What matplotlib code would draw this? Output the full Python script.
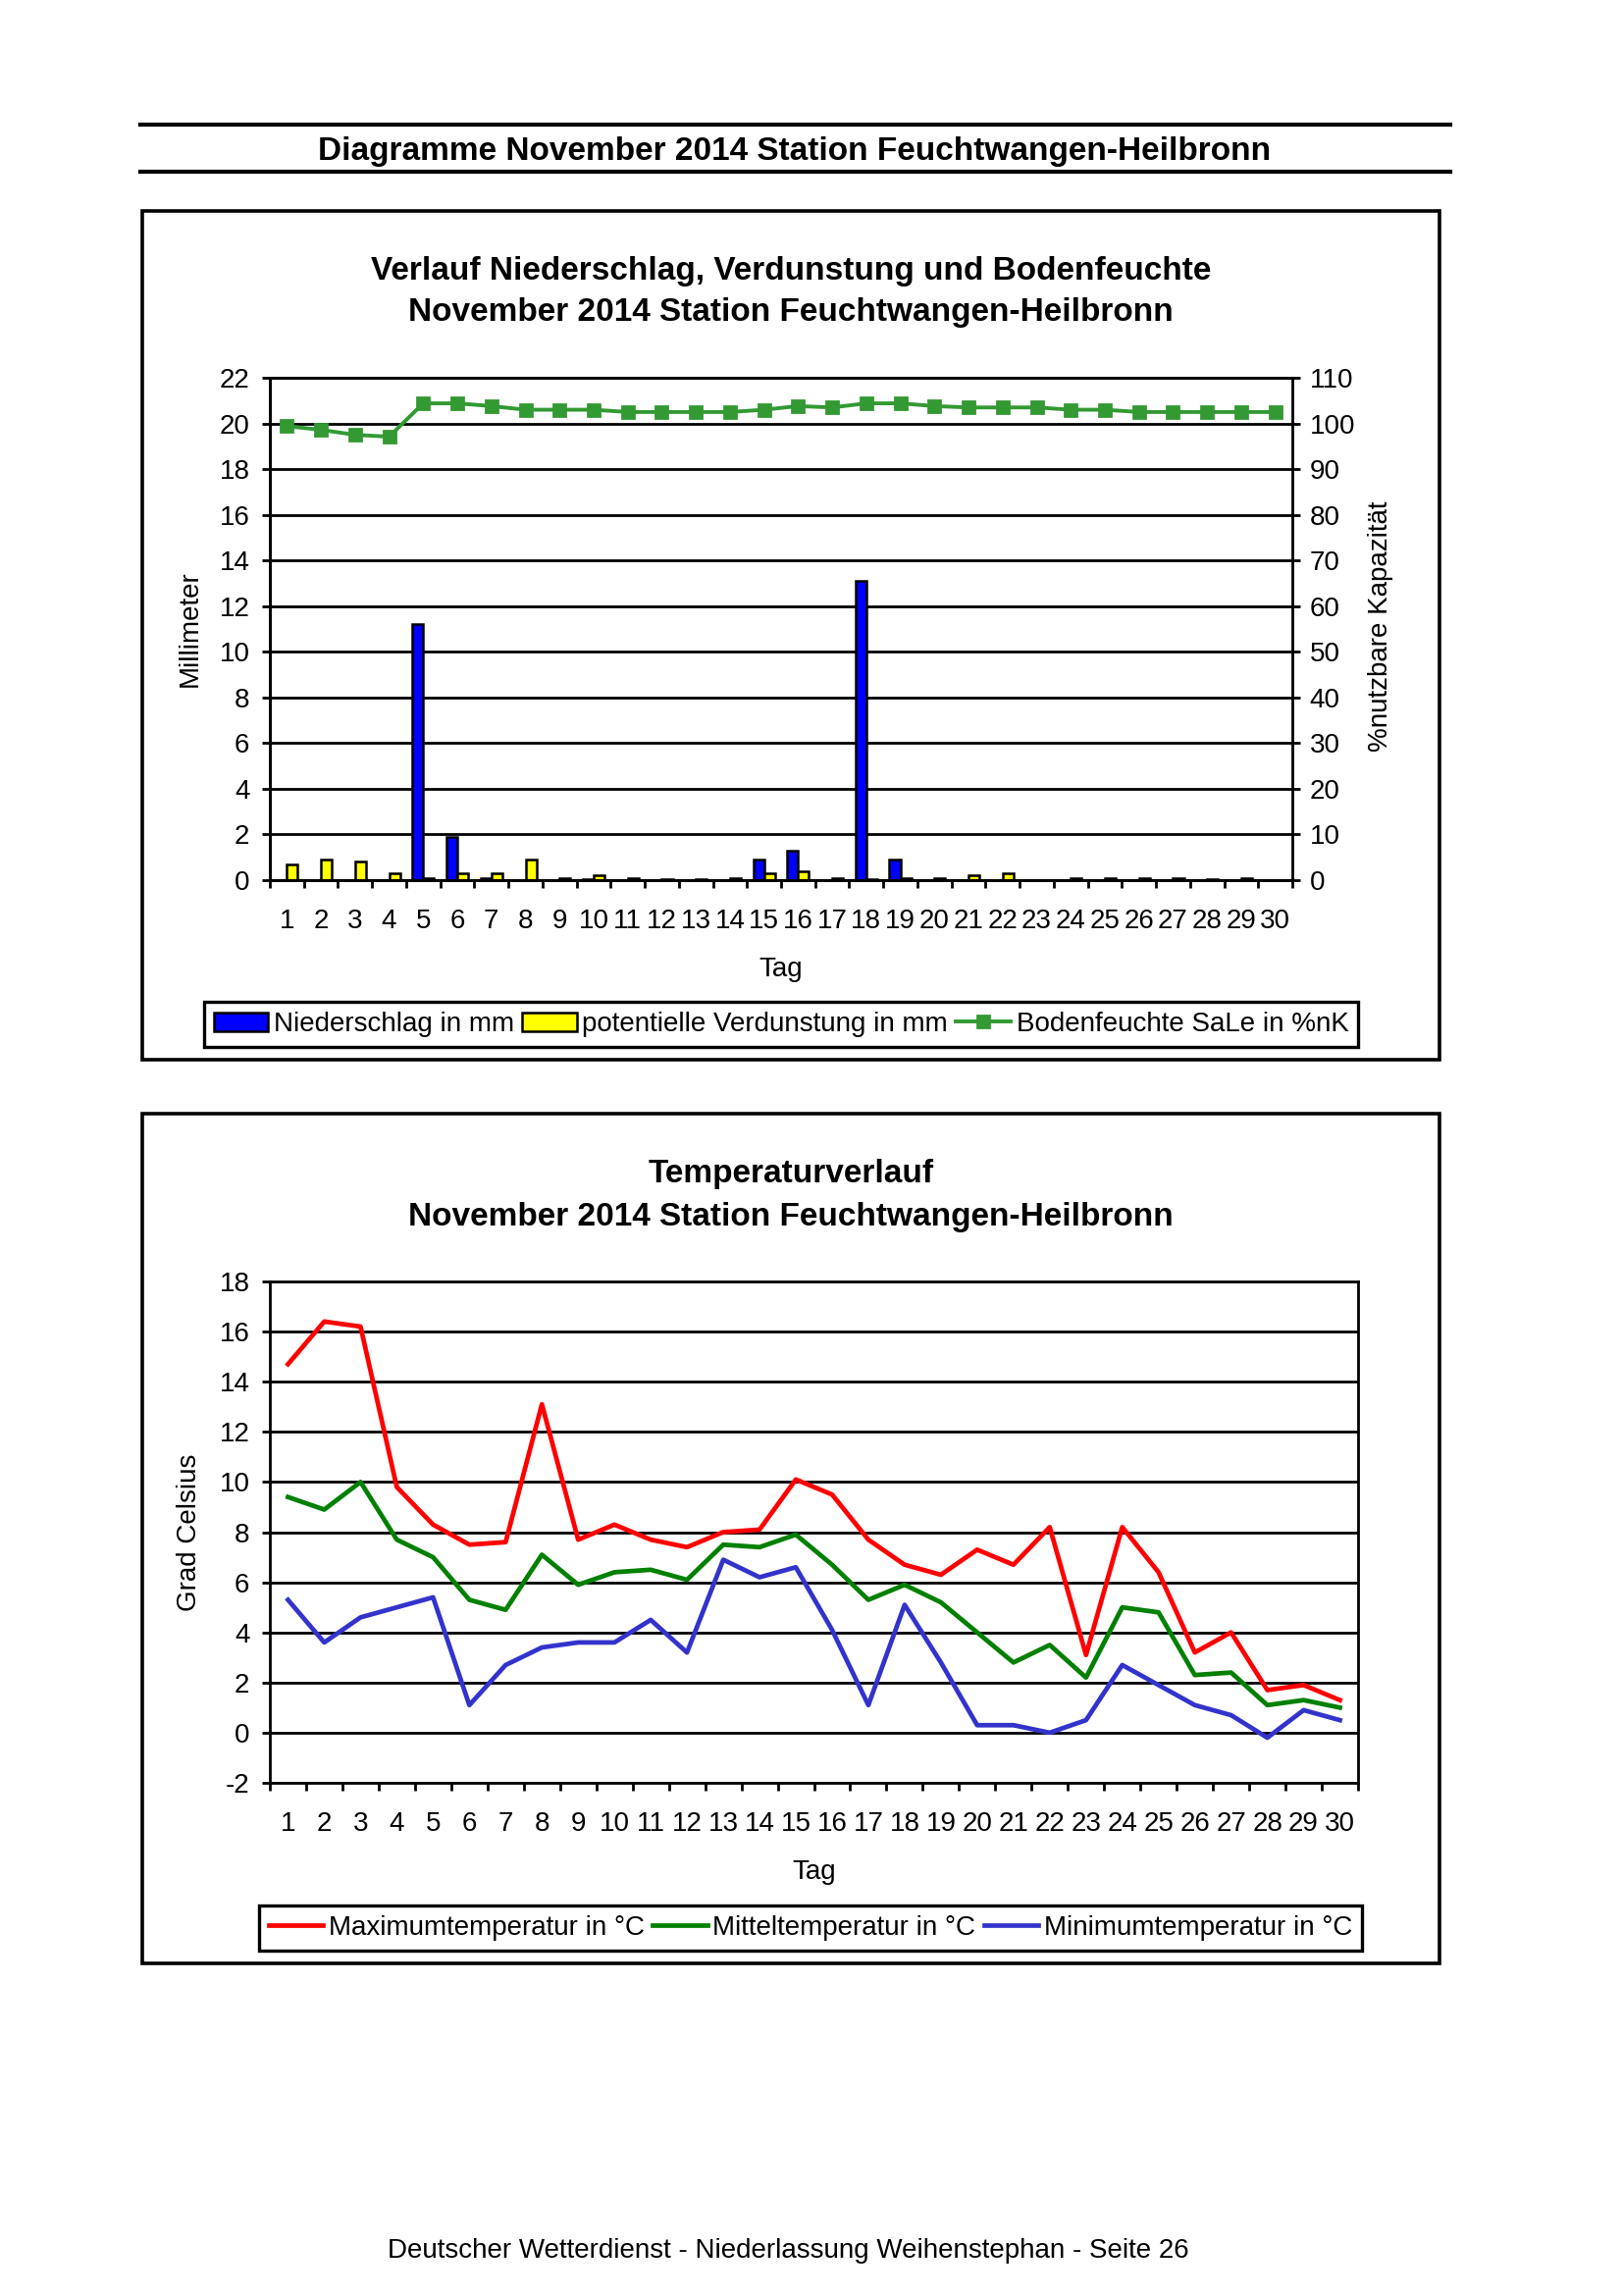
import numpy as np
import matplotlib
matplotlib.use("Agg")
import matplotlib.pyplot as plt
from matplotlib.lines import Line2D
from matplotlib.patches import Rectangle, Patch
from matplotlib.ticker import MultipleLocator

plt.rcParams['font.family'] = ['Liberation Sans', 'DejaVu Sans']
plt.rcParams['font.size'] = 10
plt.rcParams['axes.unicode_minus'] = False

# page size in pixels, drawn at 200 dpi
W, H = 1653, 2340
DPI = 200

# Daten November 2014, Station Feuchtwangen-Heilbronn
tage = list(range(1, 31))
niederschlag = [0, 0, 0, 0, 11.2, 1.9, 0.1, 0, 0, 0.05,
                0, 0, 0, 0, 0.9, 1.3, 0, 13.1, 0.9, 0,
                0, 0, 0, 0, 0, 0, 0, 0, 0, 0]
verdunstung = [0.7, 0.9, 0.8, 0.3, 0.1, 0.3, 0.3, 0.9, 0.1, 0.2,
               0.1, 0.05, 0.05, 0.1, 0.3, 0.4, 0.1, 0.05, 0.1, 0.1,
               0.2, 0.3, 0.0, 0.1, 0.1, 0.1, 0.1, 0.05, 0.1, 0.0]
bodenfeuchte = [99.4, 98.6, 97.5, 97.1, 104.4, 104.4, 103.8, 103.0, 103.0, 103.0,
                102.5, 102.5, 102.5, 102.5, 103.0, 103.8, 103.5, 104.4, 104.4, 103.8,
                103.5, 103.5, 103.5, 103.0, 103.0, 102.5, 102.5, 102.5, 102.5, 102.5]
t_max = [14.7, 16.4, 16.2, 9.8, 8.3, 7.5, 7.6, 13.1, 7.7, 8.3,
         7.7, 7.4, 8.0, 8.1, 10.1, 9.5, 7.7, 6.7, 6.3, 7.3,
         6.7, 8.2, 3.1, 8.2, 6.4, 3.2, 4.0, 1.7, 1.9, 1.3]
t_mittel = [9.4, 8.9, 10.0, 7.7, 7.0, 5.3, 4.9, 7.1, 5.9, 6.4,
            6.5, 6.1, 7.5, 7.4, 7.9, 6.7, 5.3, 5.9, 5.2, 4.0,
            2.8, 3.5, 2.2, 5.0, 4.8, 2.3, 2.4, 1.1, 1.3, 1.0]
t_min = [5.3, 3.6, 4.6, 5.0, 5.4, 1.1, 2.7, 3.4, 3.6, 3.6,
         4.5, 3.2, 6.9, 6.2, 6.6, 4.1, 1.1, 5.1, 2.8, 0.3,
         0.3, 0.0, 0.5, 2.7, 1.9, 1.1, 0.7, -0.2, 0.9, 0.5]

ORT = "November 2014 Station Feuchtwangen-Heilbronn"


def fx(x):
    return x / W


def fy(y):
    return 1 - y / H


def axes_px(left, top, right, bottom):
    return fig.add_axes([fx(left), fy(bottom), (right - left) / W, (bottom - top) / H])


def ftext(x, y, s, **kw):
    fig.text(fx(x), fy(y), s, ha='center', va='center', **kw)


def style_days(ax):
    ax.set_xlim(0.5, 30.5)
    ax.set_xticks(tage)
    ax.set_xticklabels([str(t) for t in tage])
    ax.set_xticks(np.arange(0.5, 31, 1), minor=True)
    ax.tick_params(axis='x', which='major', length=0, pad=10.5, labelsize=10)
    ax.tick_params(axis='x', which='minor', length=2.9, width=1.0, direction='out')
    ax.tick_params(axis='y', length=2.9, width=1.0, pad=4.5, labelsize=10)
    ax.grid(axis='y', color='black', linewidth=1.0)
    ax.set_axisbelow(True)
    for s in ax.spines.values():
        s.set_linewidth(1.0)


fig = plt.figure(figsize=(W / DPI, H / DPI), dpi=DPI)

# Kopfzeile
for yy in (127, 175):
    fig.add_artist(Line2D([fx(143), fx(1478)], [fy(yy), fy(yy)], color='black',
                          linewidth=1.5, transform=fig.transFigure))
ftext(810, 154, "Diagramme " + ORT, fontsize=12, fontweight='bold')

# Rahmen
fig.add_artist(Rectangle((fx(145), fy(1080)), (1467 - 145) / W, (1080 - 215) / H,
                         fill=False, edgecolor='black', linewidth=1.3, transform=fig.transFigure))
fig.add_artist(Rectangle((fx(145), fy(2001)), (1467 - 145) / W, (2001 - 1135) / H,
                         fill=False, edgecolor='black', linewidth=1.3, transform=fig.transFigure))

# --- Diagramm 1: Niederschlag, Verdunstung, Bodenfeuchte
ftext(806, 276, "Verlauf Niederschlag, Verdunstung und Bodenfeuchte", fontsize=12, fontweight='bold')
ftext(806, 319, ORT, fontsize=12, fontweight='bold')

ax1 = axes_px(275, 385, 1317, 897)
x = np.array(tage)
bw = 0.32
ax1.bar(x - bw, niederschlag, width=bw, align='edge', color='#0000FF',
        edgecolor='black', linewidth=0.9, zorder=3)
ax1.bar(x, verdunstung, width=bw, align='edge', color='#FFFF00',
        edgecolor='black', linewidth=0.9, zorder=3)
ax1.set_ylim(0, 22)
ax1.yaxis.set_major_locator(MultipleLocator(2))
style_days(ax1)
ax1.spines['right'].set_visible(False)

ax1b = ax1.twinx()
ax1b.plot(tage, bodenfeuchte, color='#339933', linewidth=1.4, marker='s', markersize=4.5)
ax1b.set_ylim(0, 110)
ax1b.yaxis.set_major_locator(MultipleLocator(10))
ax1b.tick_params(axis='y', length=2.9, width=1.0, pad=3.5, labelsize=10)
for s in ax1b.spines.values():
    s.set_linewidth(1.0)

ftext(194, 641, "Millimeter", rotation=90)
ftext(1407, 638, "%nutzbare Kapazität", rotation=90)
ftext(796, 988, "Tag")

h1 = [Patch(facecolor='#0000FF', edgecolor='black', linewidth=0.9),
      Patch(facecolor='#FFFF00', edgecolor='black', linewidth=0.9),
      Line2D([], [], color='#339933', linewidth=1.4, marker='s', markersize=4.5)]
l1 = ["Niederschlag in mm", "potentielle Verdunstung in mm", "Bodenfeuchte SaLe in %nK"]
leg1 = ax1.legend(h1, l1, loc='center', bbox_to_anchor=(fx(796), fy(1044)),
                  bbox_transform=fig.transFigure, ncol=3, fancybox=False,
                  edgecolor='black', framealpha=1, borderpad=0.35, handlelength=2.0,
                  handletextpad=0.2, columnspacing=0.3, fontsize=10, borderaxespad=0)
leg1.get_frame().set_linewidth(1.2)

# --- Diagramm 2: Temperaturverlauf
ftext(806, 1197, "Temperaturverlauf", fontsize=12, fontweight='bold')
ftext(806, 1240, ORT, fontsize=12, fontweight='bold')

ax2 = axes_px(275, 1306, 1384, 1817)
ax2.plot(tage, t_max, color='#FF0000', linewidth=1.7)
ax2.plot(tage, t_mittel, color='#008000', linewidth=1.7)
ax2.plot(tage, t_min, color='#3333CC', linewidth=1.7)
ax2.set_ylim(-2, 18)
ax2.yaxis.set_major_locator(MultipleLocator(2))
style_days(ax2)

ftext(193, 1562, "Grad Celsius", rotation=90)
ftext(830, 1908, "Tag")

h2 = [Line2D([], [], color='#FF0000', linewidth=1.7),
      Line2D([], [], color='#008000', linewidth=1.7),
      Line2D([], [], color='#3333CC', linewidth=1.7)]
l2 = ["Maximumtemperatur in °C", "Mitteltemperatur in °C", "Minimumtemperatur in °C"]
leg2 = ax2.legend(h2, l2, loc='center', bbox_to_anchor=(fx(826), fy(1965)),
                  bbox_transform=fig.transFigure, ncol=3, fancybox=False,
                  edgecolor='black', framealpha=1, borderpad=0.35, handlelength=2.0,
                  handletextpad=0.2, columnspacing=0.3, fontsize=10, borderaxespad=0)
leg2.get_frame().set_linewidth(1.2)

# Fusszeile
ftext(803, 2294, "Deutscher Wetterdienst - Niederlassung Weihenstephan - Seite 26", fontsize=10)

fig.savefig("out.png", dpi=DPI, facecolor='white')
